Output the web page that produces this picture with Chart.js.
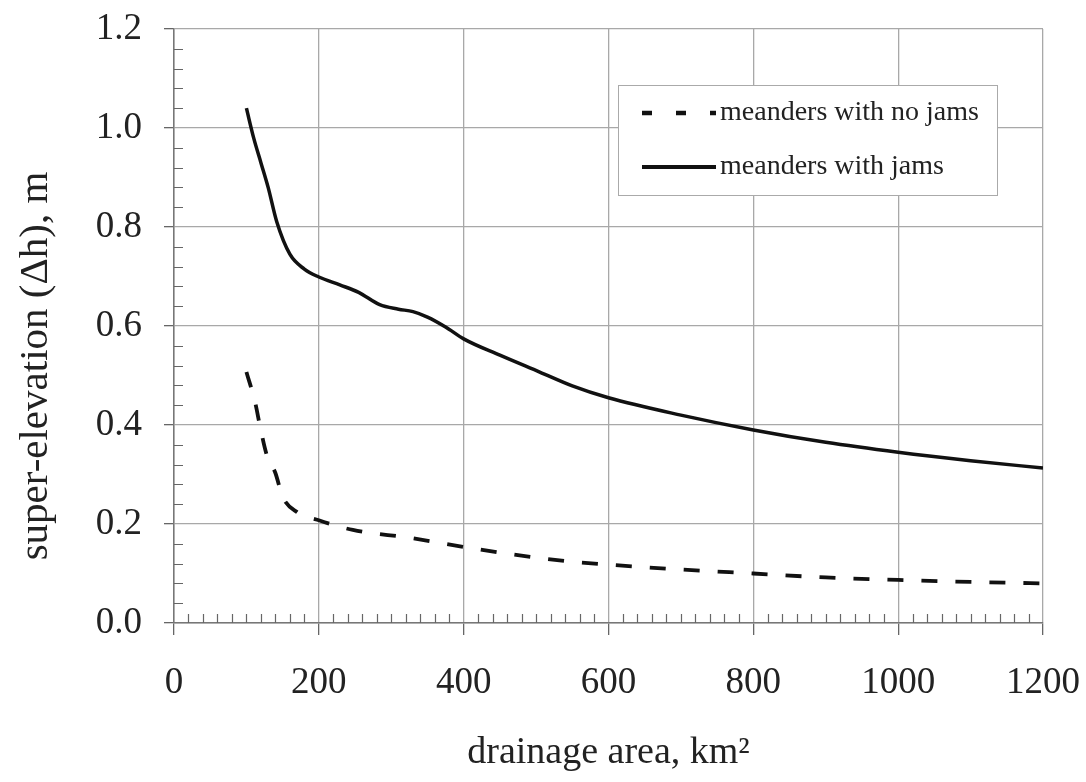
<!DOCTYPE html>
<html>
<head>
<meta charset="utf-8">
<script src="https://cdn.jsdelivr.net/npm/chart.js@4"></script>
<style>
  html, body { margin: 0; padding: 0; background: #fff; }
  #wrap { width: 1086px; height: 782px; }
</style>
</head>
<body>
<div id="wrap"><canvas id="myChart" width="1086" height="782"></canvas></div>
<script>
// drainage area (km2) and super-elevation (m)
const jamsArea = [100, 110, 120, 130, 142, 160, 180, 200, 229, 255, 284, 310, 330, 350, 375, 400, 450, 505, 550, 600, 700, 800, 900, 1000, 1100, 1200];
const jamsDh = [1.04, 0.98, 0.93, 0.88, 0.81, 0.745, 0.715, 0.699, 0.683, 0.668, 0.643, 0.634, 0.629, 0.618, 0.598, 0.574, 0.541, 0.507, 0.479, 0.455, 0.42, 0.39, 0.365, 0.345, 0.328, 0.313];

const noJamsArea = [100, 112, 119, 128, 140, 150, 170, 201, 247, 326, 399, 470, 542, 600, 700, 800, 900, 1000, 1100, 1200];
const noJamsDh = [0.507, 0.446, 0.396, 0.34, 0.303, 0.255, 0.224, 0.207, 0.188, 0.172, 0.154, 0.138, 0.125, 0.118, 0.108, 0.10, 0.092, 0.087, 0.083, 0.08];

const seriesLabels = ['meanders with no jams', 'meanders with jams'];
const xTitle = 'drainage area, km\u00B2';
const yTitle = 'super-elevation (\u0394h), m';

const serif = '"Liberation Serif", "DejaVu Serif", serif';
const textColor = '#222';

const toPoints = (xs, ys) => xs.map((x, i) => ({ x: x, y: ys[i] }));

// small inward minor ticks like the original plot
const minorTicks = {
    id: 'minorTicks',
    afterDatasetsDraw(chart) {
        const { ctx, chartArea, scales } = chart;
        ctx.save();
        ctx.strokeStyle = '#666';
        ctx.lineWidth = 1.2;
        ctx.beginPath();
        for (let v = 20; v < 1200; v += 20) {
            if (v % 200 === 0) continue;
            const px = Math.round(scales.x.getPixelForValue(v)) + 0.5;
            ctx.moveTo(px, chartArea.bottom);
            ctx.lineTo(px, chartArea.bottom - 9);
        }
        for (let i = 1; i < 30; i++) {
            if (i % 5 === 0) continue;
            const py = Math.round(scales.y.getPixelForValue(i * 0.04)) + 0.5;
            ctx.moveTo(chartArea.left, py);
            ctx.lineTo(chartArea.left + 9, py);
        }
        ctx.stroke();
        ctx.restore();
    }
};

// y title sits a bit below the middle of the axis in the original
const yTitlePlugin = {
    id: 'yTitlePlugin',
    afterDraw(chart) {
        const ctx = chart.ctx;
        ctx.save();
        ctx.translate(36, 366);
        ctx.rotate(-Math.PI / 2);
        ctx.font = '41px ' + serif;
        ctx.fillStyle = textColor;
        ctx.textAlign = 'center';
        ctx.textBaseline = 'middle';
        ctx.fillText(yTitle, 0, 0);
        ctx.restore();
    }
};

// boxed legend inside the plot, upper right
const boxLegend = {
    id: 'boxLegend',
    afterDraw(chart) {
        const ctx = chart.ctx;
        const x0 = 618, y0 = 85, w = 379, h = 110;
        ctx.save();
        ctx.fillStyle = '#fff';
        ctx.fillRect(x0, y0, w, h);
        ctx.strokeStyle = '#aaa';
        ctx.lineWidth = 1;
        ctx.strokeRect(x0 + 0.5, y0 + 0.5, w, h);
        ctx.font = '28px ' + serif;
        ctx.textBaseline = 'middle';
        chart.data.datasets.forEach((ds, i) => {
            const y = y0 + 28 + i * 54;
            ctx.strokeStyle = ds.borderColor;
            ctx.lineWidth = ds.borderWidth + 0.5;
            ctx.setLineDash(ds.borderDash ? [10, 24] : []);
            ctx.beginPath();
            ctx.moveTo(x0 + 24, y);
            ctx.lineTo(x0 + 98, y);
            ctx.stroke();
            ctx.setLineDash([]);
            ctx.fillStyle = textColor;
            ctx.fillText(ds.label, x0 + 102, y);
        });
        ctx.restore();
    }
};

const config = {
    type: 'line',
    data: {
        datasets: [{
            label: seriesLabels[0],
            data: toPoints(noJamsArea, noJamsDh),
            borderColor: '#111',
            borderWidth: 3.8,
            borderDash: [16, 18],
            pointRadius: 0,
            fill: false,
            cubicInterpolationMode: 'monotone',
        }, {
            label: seriesLabels[1],
            data: toPoints(jamsArea, jamsDh),
            borderColor: '#111',
            borderWidth: 3.5,
            pointRadius: 0,
            fill: false,
            cubicInterpolationMode: 'monotone',
        }],
    },
    options: {
        responsive: false,
        animation: false,
        layout: { padding: { top: 29, right: 43, left: 0, bottom: 0 } },
        plugins: {
            legend: { display: false },
            tooltip: { enabled: false },
        },
        scales: {
            x: {
                type: 'linear',
                min: 0,
                max: 1200,
                afterFit: (s) => {
                    s.height = 159;
                    s.paddingLeft = 0;
                    s.paddingRight = 0;
                },
                ticks: {
                    stepSize: 200,
                    color: textColor,
                    padding: 26,
                    font: { family: serif, size: 37 },
                    callback: (v) => String(v),
                },
                grid: { color: '#a8a8a8', lineWidth: 1.3, tickLength: 12, tickColor: '#666' },
                border: { color: '#777', width: 1.5 },
                title: {
                    display: true,
                    text: xTitle,
                    color: textColor,
                    padding: { bottom: 6 },
                    font: { family: serif, size: 38 },
                },
            },
            y: {
                min: 0,
                max: 1.2,
                afterFit: (s) => {
                    s.width = 174;
                    s.paddingTop = 0;
                    s.paddingBottom = 0;
                },
                ticks: {
                    stepSize: 0.2,
                    color: textColor,
                    padding: 22,
                    font: { family: serif, size: 37 },
                    callback: (v) => v.toFixed(1),
                },
                grid: { color: '#a8a8a8', lineWidth: 1.3, tickLength: 10, tickColor: '#666' },
                border: { color: '#777', width: 1.5 },
            },
        },
    },
    plugins: [minorTicks, yTitlePlugin, boxLegend],
};

const ctx = document.getElementById('myChart').getContext('2d');
const myChart = new Chart(ctx, config);
</script>
</body>
</html>
